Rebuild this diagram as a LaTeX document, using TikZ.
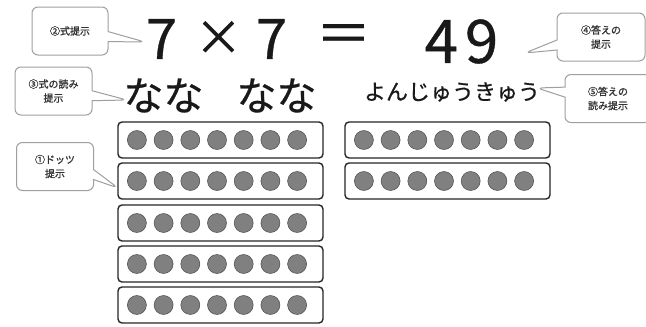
\documentclass[tikz,border=0pt]{standalone}
\usepackage{fontspec}
\newfontfamily\cjk{Noto Sans CJK JP}
\newfontfamily\cjkb[FakeBold=1.2]{Noto Sans CJK JP}
\newfontfamily\cjkm[FakeBold=0.6]{Noto Sans CJK JP}
\usetikzlibrary{shapes.callouts,calc}
\begin{document}
\begin{tikzpicture}[x=1pt,y=-1pt,
  callbox/.style={rectangle callout, draw=gray!75, line width=1pt, rounded corners=6pt,
    fill=white, font=\cjkb\fontsize{10}{14}\selectfont, text=black!80, align=center, inner sep=0pt,
    minimum width=#1, minimum height=48pt, callout pointer width=10pt},
  dotbox/.style={draw=black!85, line width=1.4pt, rounded corners=4pt,
    minimum width=205pt, minimum height=36pt, inner sep=0pt},
  dot/.style={circle, fill=gray, draw=gray!60!black, line width=0.5pt,
    minimum size=19pt, inner sep=0pt},
  big/.style={font=\cjkm\fontsize{56}{56}\selectfont, text=black!90, inner sep=0pt},
  kana/.style={font=\cjkm\fontsize{40}{40}\selectfont, text=black!90, inner sep=0pt},
  kanasmall/.style={font=\cjkm\fontsize{22}{22}\selectfont, text=black!90, inner sep=0pt}
]
\clip (0,0) rectangle (646,327);
\fill[white] (0,0) rectangle (646,327);

% equation
\node[big] (seven1) at (161.5,39) {7};
\node[big, font=\cjkm\fontsize{48}{48}\selectfont] (times) at (218.5,38) {×};
\node[big] (seven2) at (271.5,39) {7};
\node[big] (eq) at (343.5,39) {＝};
\node[big, font=\cjkm\fontsize{60}{60}\selectfont] (ans) at (461.5,41.5) {4\kern7pt9};

% readings
\node[kana] (nana1) at (163.5,95.5) {なな};
\node[kana] (nana2) at (276.5,95.5) {なな};
\node[kanasmall] (ansread) at (452,92) {よんじゅうきゅう};

% dot rows
\foreach \r/\y in {1/140,2/181,3/223,4/264,5/305}{
  \node[dotbox] (L\r) at (220.5,\y) {};
  \foreach \i in {1,...,7}{
    \node[dot] (L\r-\i) at ($(L\r.center)+({(\i-4)*26.7-3.5},0)$) {};
  }
}
\foreach \r/\y in {1/140,2/181}{
  \node[dotbox] (R\r) at (447.5,\y) {};
  \foreach \i in {1,...,7}{
    \node[dot] (R\r-\i) at ($(R\r.center)+({(\i-4)*26.7-3.5},0)$) {};
  }
}

% callouts
\coordinate (tip2) at (145,42);
\coordinate (tip3) at (127,100);
\coordinate (tip1) at (118,188);
\coordinate (tip4) at (525,53);
\coordinate (tip5) at (537,88);
\node[callbox=76pt, callout absolute pointer={(tip2)}] (c2) at (70,31) {②式提示};
\node[callbox=77pt, callout absolute pointer={(tip3)}] (c3) at (53.5,91) {③式の読み\\提示};
\node[callbox=77pt, callout absolute pointer={(tip1)}] (c1) at (55,166.5) {①ドッツ\\提示};
\node[callbox=88pt, callout absolute pointer={(tip4)}] (c4) at (601,37) {④答えの\\提示};
\node[callbox=86pt, callout absolute pointer={(tip5)}] (c5) at (608,98.5) {⑤答えの\\読み提示};
\end{tikzpicture}
\end{document}
